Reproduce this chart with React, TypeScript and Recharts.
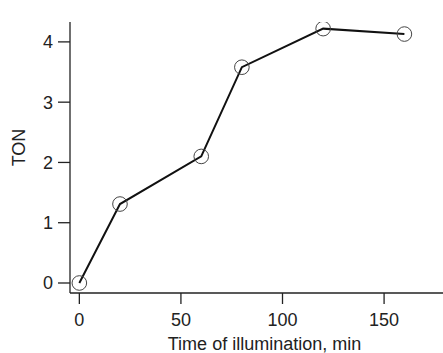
import React from 'react';
import { LineChart, Line, XAxis, YAxis, Label } from 'recharts';

const times = [0, 20, 60, 80, 120, 160];
const ton = [0, 1.31, 2.1, 3.58, 4.22, 4.13];
const xTicks = [0, 50, 100, 150];
const yTicks = [0, 1, 2, 3, 4];

const data = times.map((t, i) => ({ time: t, ton: ton[i] }));

const fontFamily = '"Liberation Sans", Arial, sans-serif';
const font = { fontFamily, fontSize: 18, fill: '#222' };

const OpenCircle = (props: any) => {
  const { cx, cy } = props;
  if (cx == null || cy == null) return null;
  return <circle cx={cx} cy={cy} r={7.3} fill="none" stroke="#444" strokeWidth={1} />;
};

const XTitle = (props: any) => {
  const vb = props.viewBox;
  return (
    <text x={vb.x + vb.width / 2 + 8} y={350} textAnchor="middle" {...font}>
      Time of illumination, min
    </text>
  );
};

const YTitle = (props: any) => {
  const vb = props.viewBox;
  const cy = vb.y + vb.height / 2 - 10;
  return (
    <text
      x={18.5}
      y={cy}
      transform={`rotate(-90, 18.5, ${cy})`}
      textAnchor="middle"
      dominantBaseline="central"
      {...font}
    >
      TON
    </text>
  );
};

export default function App() {
  return (
    <div style={{ position: 'absolute', left: 0, top: 0, background: '#fff' }}>
      <LineChart width={443} height={353} data={data} margin={{ top: 22, right: 0, left: 0, bottom: 0 }}>
        <XAxis
          dataKey="time"
          type="number"
          domain={[-4.6, 179]}
          ticks={xTicks}
          allowDataOverflow
          height={60}
          tickSize={11}
          tickMargin={9}
          stroke="#222"
          strokeWidth={1.3}
          tick={font}
        >
          <Label content={<XTitle />} />
        </XAxis>
        <YAxis
          type="number"
          domain={[-0.166, 4.33]}
          ticks={yTicks}
          allowDataOverflow
          width={70}
          tickSize={12}
          tickMargin={5}
          stroke="#222"
          strokeWidth={1.3}
          tick={font}
        >
          <Label content={<YTitle />} />
        </YAxis>
        <Line
          type="linear"
          dataKey="ton"
          stroke="#111"
          strokeWidth={2}
          dot={<OpenCircle />}
          activeDot={false}
          isAnimationActive={false}
        />
      </LineChart>
    </div>
  );
}
